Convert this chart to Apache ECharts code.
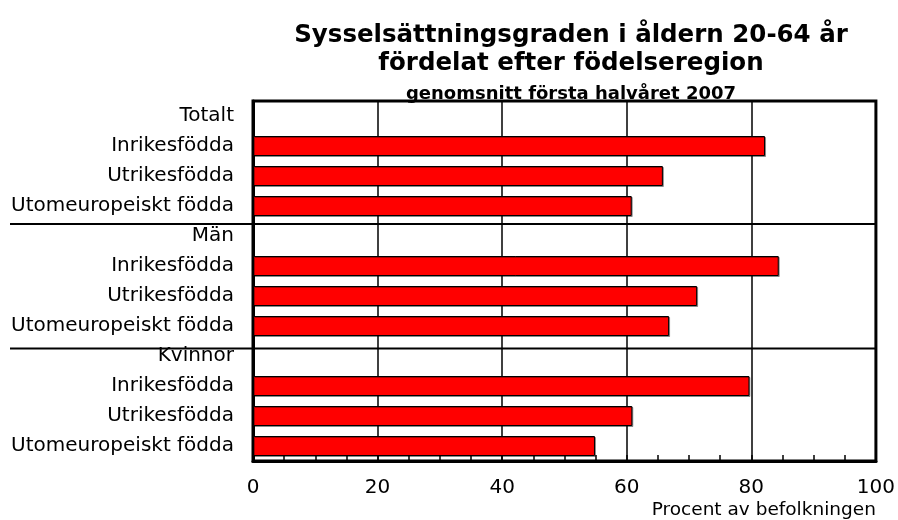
<!DOCTYPE html>
<html>
<head>
<meta charset="utf-8">
<script src="https://cdn.jsdelivr.net/npm/echarts@6/dist/echarts.min.js"></script>
<style>
  html, body { margin: 0; padding: 0; background: #fff; }
  #chart { width: 898px; height: 520px; }
</style>
</head>
<body>
<div id="chart"></div>
<script>
const categories = [
  'Totalt', 'Inrikesfödda', 'Utrikesfödda', 'Utomeuropeiskt födda',
  'Män', 'Inrikesfödda', 'Utrikesfödda', 'Utomeuropeiskt födda',
  'Kvinnor', 'Inrikesfödda', 'Utrikesfödda', 'Utomeuropeiskt födda',
];
// header rows (Totalt, Män, Kvinnor) carry no bar
const values = [
  null, 82.2, 65.8, 60.8,
  null, 84.4, 71.3, 66.8,
  null, 79.7, 60.9, 54.9,
];
const xTicks = [0, 20, 40, 60, 80, 100];
// group separators, in category units (below Utomeuropeiskt födda rows)
const separators = [3.6, 7.75];

const font = 'DejaVu Sans, Liberation Sans, Arial, sans-serif';

const chart = echarts.init(document.getElementById('chart'), null, { renderer: 'canvas' });

chart.setOption({
  animation: false,
  backgroundColor: '#fff',
  textStyle: { fontFamily: font, color: '#000' },
  title: {
    text: 'Sysselsättningsgraden i åldern 20-64 år\nfördelat efter födelseregion',
    subtext: 'genomsnitt första halvåret 2007',
    left: 566,
    top: 17,
    textAlign: 'center',
    itemGap: 6,
    textStyle: {
      fontFamily: font, fontSize: 24.5, fontWeight: 'bold', color: '#000', lineHeight: 28,
    },
    subtextStyle: {
      fontFamily: font, fontSize: 18, fontWeight: 'bold', color: '#000', lineHeight: 20,
    },
  },
  grid: {
    left: 253,
    right: 21,
    top: 101,
    bottom: 57,
    show: true,
    borderColor: '#000',
    borderWidth: 3,
    backgroundColor: 'transparent',
  },
  xAxis: {
    type: 'value',
    min: xTicks[0],
    max: xTicks[xTicks.length - 1],
    interval: 20,
    name: 'Procent av befolkningen',
    nameLocation: 'end',
    nameGap: 0,
    nameTextStyle: {
      fontFamily: font, fontSize: 18.5, color: '#000',
      align: 'right', verticalAlign: 'top', padding: [40, 0, 0, 0],
    },
    axisLine: { show: true, lineStyle: { color: '#000', width: 3 } },
    axisTick: { show: true, inside: true, length: 6, lineStyle: { color: '#000', width: 1.5 } },
    minorTick: { show: true, splitNumber: 4, length: 6, lineStyle: { color: '#000', width: 1.5 } },
    splitLine: { show: true, lineStyle: { color: '#000', width: 1.5 } },
    axisLabel: { fontFamily: font, fontSize: 20, color: '#000', margin: 17 },
  },
  yAxis: {
    type: 'category',
    data: categories,
    inverse: true,
    axisLine: { show: true, lineStyle: { color: '#000', width: 3 } },
    axisTick: { show: false },
    splitLine: { show: false },
    axisLabel: {
      fontFamily: font, fontSize: 20, color: '#000', margin: 19, interval: 0,
      padding: [5, 0, 0, 0],
    },
  },
  series: [{
    type: 'bar',
    data: values,
    barWidth: 20,
    itemStyle: {
      color: '#ff0000',
      borderColor: '#000',
      borderWidth: 1,
      shadowColor: 'rgba(0,0,0,0.35)',
      shadowOffsetX: 1,
      shadowOffsetY: 1,
    },
    z: 3,
  }],
});

// separator lines run from the label column across the plot
const xRight = chart.convertToPixel({ xAxisIndex: 0 }, xTicks[xTicks.length - 1]);
const sepLines = separators.map((s) => {
  const i = Math.floor(s);
  const y0 = chart.convertToPixel({ yAxisIndex: 0 }, i);
  const y1 = chart.convertToPixel({ yAxisIndex: 0 }, i + 1);
  const y = y0 + (s - i) * (y1 - y0);
  return {
    type: 'line',
    shape: { x1: 10, y1: y, x2: xRight, y2: y },
    style: { stroke: '#000', lineWidth: 2 },
    z: 10,
  };
});
chart.setOption({ graphic: sepLines });
</script>
</body>
</html>
